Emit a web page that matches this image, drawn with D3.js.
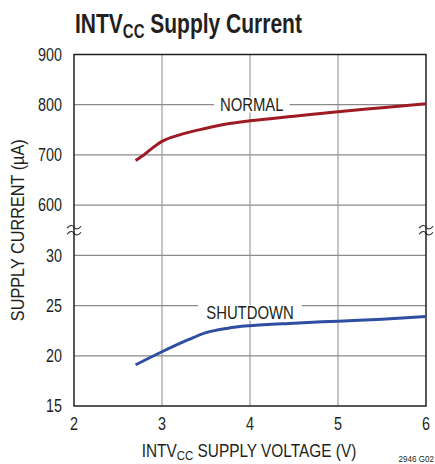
<!DOCTYPE html>
<html><head><meta charset="utf-8">
<script src="https://cdn.jsdelivr.net/npm/d3@7"></script>
<style>
html,body{margin:0;padding:0;background:#fff;}
svg{display:block;}
text{font-family:"Liberation Sans","Arial",sans-serif;fill:#231f20;}
</style></head>
<body>
<svg id="chart" width="435" height="464"></svg>
<script>
// Data
const xTicks = [2, 3, 4, 5, 6];
const yTopTicks = [600, 700, 800, 900];
const yBotTicks = [15, 20, 25, 30];
const normalVoltage = [2.7, 2.8, 2.9, 3.0, 3.2, 3.5, 3.75, 4.0, 4.5, 5.0, 5.5, 6.0];
const normalCurrent = [689, 701, 715, 727, 740, 753, 762, 768, 777, 786, 794, 802];
const shutdownVoltage = [2.7, 3.0, 3.3, 3.5, 3.75, 4.0, 4.5, 5.0, 5.5, 6.0];
const shutdownCurrent = [19.1, 20.4, 21.6, 22.3, 22.75, 23.0, 23.25, 23.45, 23.65, 23.9];

const svg = d3.select("#chart");
const L = 74, T = 54.5, W = 352, H = 351.5;
const row = H / 7;
const x = d3.scaleLinear().domain([2, 6]).range([L, L + W]);
const yTop = d3.scaleLinear().domain([600, 900]).range([T + 3 * row, T]);
const yBot = d3.scaleLinear().domain([15, 30]).range([T + 7 * row, T + 4 * row]);

// condensed text helper
function ctext(parent, px, py, s, size, anchor, rot) {
  return parent.append("text")
    .attr("transform", `translate(${px},${py})${rot ? " rotate(" + rot + ")" : ""} scale(${s},1)`)
    .attr("text-anchor", anchor || "start").attr("font-size", size);
}

const grid = svg.append("g");
xTicks.slice(1, -1).forEach(v => {
  grid.append("line").attr("x1", x(v)).attr("x2", x(v)).attr("y1", T).attr("y2", T + H)
    .attr("stroke", "#9a9a9a").attr("stroke-width", 1.2);
});
yTopTicks.slice(0, -1).forEach(v => {
  grid.append("line").attr("x1", L).attr("x2", L + W).attr("y1", yTop(v)).attr("y2", yTop(v))
    .attr("stroke", "#8a8a8a").attr("stroke-width", 1.2);
});
yBotTicks.slice(1).forEach(v => {
  grid.append("line").attr("x1", L).attr("x2", L + W).attr("y1", yBot(v)).attr("y2", yBot(v))
    .attr("stroke", "#8a8a8a").attr("stroke-width", 1.2);
});

// frame
svg.append("rect").attr("x", L).attr("y", T).attr("width", W).attr("height", H)
  .attr("fill", "none").attr("stroke", "#231f20").attr("stroke-width", 1.5);

// series labels with knockout
function knockLabel(txt, vx, vy, scaleY, dy, pad) {
  const g = svg.append("g");
  const cx = x(vx), cy = scaleY(vy) + dy;
  const t = ctext(g, cx, cy, 0.85, 17.5, "middle").text(txt);
  const bb = t.node().getBBox();
  const w = bb.width * 0.85;
  g.insert("rect", "text").attr("x", cx - w / 2 - pad).attr("y", cy + bb.y + 2).attr("width", w + 2 * pad)
    .attr("height", bb.height - 4).attr("fill", "#fff");
}
knockLabel("NORMAL", 4.02, 800, yTop, 6.5, 6);
knockLabel("SHUTDOWN", 4.0, 25, yBot, 13.5, 8);

// curves
const lineTop = d3.line().x(d => x(d[0])).y(d => yTop(d[1])).curve(d3.curveMonotoneX);
const lineBot = d3.line().x(d => x(d[0])).y(d => yBot(d[1])).curve(d3.curveMonotoneX);
svg.append("path").datum(d3.zip(normalVoltage, normalCurrent)).attr("d", lineTop)
  .attr("fill", "none").attr("stroke", "#9e1b24").attr("stroke-width", 3);
svg.append("path").datum(d3.zip(shutdownVoltage, shutdownCurrent)).attr("d", lineBot)
  .attr("fill", "none").attr("stroke", "#2f4ea2").attr("stroke-width", 3);

// break marks
const by = T + 3.5 * row;
[L, L + W].forEach(bx => {
  const g = svg.append("g").attr("transform", `translate(${bx},${by})`);
  [-3, 3].forEach(o => {
    g.append("path").attr("d", `M-7,${o + 1} C-4,${o - 3} -1,${o - 2} 0,${o} S4,${o + 3} 7,${o - 1}`)
      .attr("fill", "none").attr("stroke", "#231f20").attr("stroke-width", 1.1);
  });
});

// tick labels
yTopTicks.forEach(v => ctext(svg, L - 12, yTop(v) + 6.2, 0.82, 17.5, "end").text(v));
yBotTicks.forEach(v => ctext(svg, L - 12, yBot(v) + 6.2, 0.82, 17.5, "end").text(v));
xTicks.forEach(v => ctext(svg, x(v), 430, 0.82, 17.5, "middle").text(v));

// title
const title = ctext(svg, 75, 33, 0.75, 28).attr("font-weight", "bold");
title.append("tspan").text("INTV");
title.append("tspan").attr("font-size", 20).attr("dy", 5).text("CC");
title.append("tspan").attr("dy", -5).text(" Supply Current");

// x axis label
const xl = ctext(svg, 249, 457, 0.88, 17.5, "middle");
xl.append("tspan").text("INTV");
xl.append("tspan").attr("font-size", 13).attr("dy", 3).text("CC");
xl.append("tspan").attr("dy", -3).text(" SUPPLY VOLTAGE (V)");

// y axis label
ctext(svg, 24, T + H / 2, 0.93, 17.5, "middle", -90).text("SUPPLY CURRENT (µA)");

// figure code
ctext(svg, 434, 462, 0.85, 9.5, "end").text("2946 G02");
</script>
</body></html>
